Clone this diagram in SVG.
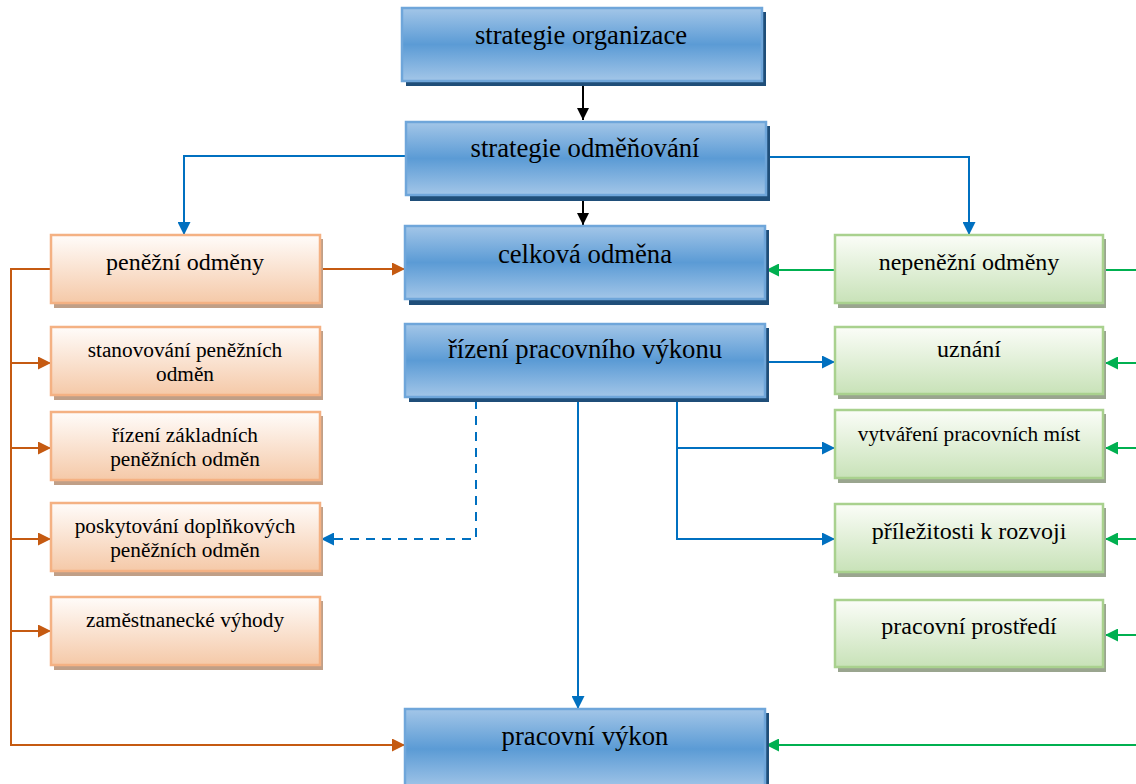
<svg xmlns="http://www.w3.org/2000/svg" width="1136" height="784" viewBox="0 0 1136 784">
<defs>
<linearGradient id="gBlue" x1="0" y1="0" x2="0" y2="1">
<stop offset="0" stop-color="#a3c6e8"/>
<stop offset="0.5" stop-color="#5b9bd5"/>
<stop offset="1" stop-color="#a3c6e8"/>
</linearGradient>
<linearGradient id="gOrange" x1="0" y1="0" x2="0" y2="1">
<stop offset="0" stop-color="#fffcfa"/>
<stop offset="1" stop-color="#f5c9a8"/>
</linearGradient>
<linearGradient id="gGreen" x1="0" y1="0" x2="0" y2="1">
<stop offset="0" stop-color="#fbfdf8"/>
<stop offset="1" stop-color="#c8e2b8"/>
</linearGradient>
<marker id="aBlack" viewBox="0 0 12 12" refX="12" refY="6" markerWidth="12" markerHeight="12" markerUnits="userSpaceOnUse" orient="auto"><path d="M0,0 L12,6 L0,12 z" fill="#000"/></marker>
<marker id="aBlue" viewBox="0 0 12 12" refX="12" refY="6" markerWidth="13" markerHeight="13" markerUnits="userSpaceOnUse" orient="auto"><path d="M0,0 L12,6 L0,12 z" fill="#0070c0"/></marker>
<marker id="aOrange" viewBox="0 0 12 12" refX="12" refY="6" markerWidth="13" markerHeight="13" markerUnits="userSpaceOnUse" orient="auto"><path d="M0,0 L12,6 L0,12 z" fill="#c55a11"/></marker>
<marker id="aGreen" viewBox="0 0 12 12" refX="12" refY="6" markerWidth="13" markerHeight="13" markerUnits="userSpaceOnUse" orient="auto"><path d="M0,0 L12,6 L0,12 z" fill="#00b050"/></marker>
</defs>
<style>
.bb{fill:url(#gBlue);stroke:#6fa6da;stroke-width:2.5}
.bs{fill:#1f4e79}
.ob{fill:url(#gOrange);stroke:#f4b183;stroke-width:2.5}
.os{fill:#c09f87}
.gb{fill:url(#gGreen);stroke:#a9d18e;stroke-width:2.5}
.gs{fill:#9aa58f}
.t{fill:#000;text-anchor:middle}
.tl{font-size:26.7px}
.tm{font-size:24px}
.ts{font-size:21.3px}
.lb{fill:none;stroke:#0070c0;stroke-width:2}
.lo{fill:none;stroke:#c55a11;stroke-width:2}
.lg{fill:none;stroke:#00b050;stroke-width:2}
.lk{fill:none;stroke:#000;stroke-width:2}
</style>
<g id="connectors">
<line class="lk" x1="583" y1="83" x2="583" y2="120" marker-end="url(#aBlack)"/>
<line class="lk" x1="583" y1="197" x2="583" y2="225" marker-end="url(#aBlack)"/>
<polyline class="lb" points="406,156 184,156 184,235" marker-end="url(#aBlue)"/>
<polyline class="lb" points="766,157 969,157 969,235" marker-end="url(#aBlue)"/>
<line class="lo" x1="321" y1="269" x2="405" y2="269" marker-end="url(#aOrange)"/>
<polyline class="lo" points="51,269 11,269 11,745 405,745" marker-end="url(#aOrange)"/>
<line class="lo" x1="11" y1="363" x2="51" y2="363" marker-end="url(#aOrange)"/>
<line class="lo" x1="11" y1="448" x2="51" y2="448" marker-end="url(#aOrange)"/>
<line class="lo" x1="11" y1="539" x2="51" y2="539" marker-end="url(#aOrange)"/>
<line class="lo" x1="11" y1="631" x2="51" y2="631" marker-end="url(#aOrange)"/>
<line class="lg" x1="835" y1="270" x2="766" y2="270" marker-end="url(#aGreen)"/>
<line class="lg" x1="1105" y1="270" x2="1136" y2="270"/>
<line class="lg" x1="1136" y1="363" x2="1105" y2="363" marker-end="url(#aGreen)"/>
<line class="lg" x1="1136" y1="448" x2="1105" y2="448" marker-end="url(#aGreen)"/>
<line class="lg" x1="1136" y1="539" x2="1105" y2="539" marker-end="url(#aGreen)"/>
<line class="lg" x1="1136" y1="635" x2="1105" y2="635" marker-end="url(#aGreen)"/>
<line class="lg" x1="1136" y1="745" x2="766" y2="745" marker-end="url(#aGreen)"/>
<line class="lb" x1="766" y1="362" x2="835" y2="362" marker-end="url(#aBlue)"/>
<polyline class="lb" points="677,400 677,539 835,539" marker-end="url(#aBlue)"/>
<line class="lb" x1="677" y1="448" x2="835" y2="448" marker-end="url(#aBlue)"/>
<line class="lb" x1="578" y1="400" x2="578" y2="709" marker-end="url(#aBlue)"/>
<polyline class="lb" points="476,400 476,539 321,539" stroke-dasharray="9,7" marker-end="url(#aBlue)"/>
</g>
<g id="n_strategie_organizace">
<rect class="bs" x="406" y="12" width="360" height="74"/>
<rect class="bb" x="402" y="8" width="360" height="73"/>
<text class="t tl" font-family="Liberation Serif, serif" x="581" y="44">strategie organizace</text>
</g>
<g id="n_strategie_odmenovani">
<rect class="bs" x="410" y="126" width="360" height="75"/>
<rect class="bb" x="406" y="122" width="360" height="73"/>
<text class="t tl" font-family="Liberation Serif, serif" x="585" y="157">strategie odměňování</text>
</g>
<g id="n_celkova_odmena">
<rect class="bs" x="409" y="230" width="360" height="75"/>
<rect class="bb" x="405" y="226" width="360" height="73"/>
<text class="t tl" font-family="Liberation Serif, serif" x="585" y="263">celková odměna</text>
</g>
<g id="n_rizeni_vykonu">
<rect class="bs" x="409" y="328" width="360" height="74"/>
<rect class="bb" x="405" y="324" width="360" height="73"/>
<text class="t tl" font-family="Liberation Serif, serif" x="585" y="358">řízení pracovního výkonu</text>
</g>
<g id="n_pracovni_vykon">
<rect class="bs" x="409" y="713" width="360" height="80"/>
<rect class="bb" x="405" y="709" width="360" height="80"/>
<text class="t tl" font-family="Liberation Serif, serif" x="585" y="745">pracovní výkon</text>
</g>
<g id="n_penezni_odmeny">
<rect class="os" x="54" y="239" width="269" height="69"/>
<rect class="ob" x="51" y="235" width="269" height="68"/>
<text class="t tm" font-family="Liberation Serif, serif" x="185" y="270">peněžní odměny</text>
</g>
<g id="n_stanovovani">
<rect class="os" x="54" y="331" width="269" height="69"/>
<rect class="ob" x="51" y="327" width="269" height="68"/>
<text class="t ts" font-family="Liberation Serif, serif" x="185" y="357">stanovování peněžních</text>
<text class="t ts" font-family="Liberation Serif, serif" x="185" y="381">odměn</text>
</g>
<g id="n_rizeni_zakladnich">
<rect class="os" x="54" y="416" width="269" height="69"/>
<rect class="ob" x="51" y="412" width="269" height="68"/>
<text class="t ts" font-family="Liberation Serif, serif" x="185" y="442">řízení základních</text>
<text class="t ts" font-family="Liberation Serif, serif" x="185" y="466">peněžních odměn</text>
</g>
<g id="n_poskytovani">
<rect class="os" x="54" y="507" width="269" height="69"/>
<rect class="ob" x="51" y="503" width="269" height="68"/>
<text class="t ts" font-family="Liberation Serif, serif" x="185" y="533">poskytování doplňkových</text>
<text class="t ts" font-family="Liberation Serif, serif" x="185" y="557">peněžních odměn</text>
</g>
<g id="n_zamestnanecke">
<rect class="os" x="54" y="601" width="269" height="69"/>
<rect class="ob" x="51" y="597" width="269" height="68"/>
<text class="t ts" font-family="Liberation Serif, serif" x="185" y="627">zaměstnanecké výhody</text>
</g>
<g id="n_nepenezni_odmeny">
<rect class="gs" x="838" y="239" width="268" height="69"/>
<rect class="gb" x="835" y="235" width="268" height="68"/>
<text class="t tm" font-family="Liberation Serif, serif" x="969" y="270">nepeněžní odměny</text>
</g>
<g id="n_uznani">
<rect class="gs" x="838" y="331" width="268" height="68"/>
<rect class="gb" x="835" y="327" width="268" height="67"/>
<text class="t tm" font-family="Liberation Serif, serif" x="969" y="357">uznání</text>
</g>
<g id="n_vytvareni">
<rect class="gs" x="838" y="414" width="268" height="69"/>
<rect class="gb" x="835" y="410" width="268" height="68"/>
<text class="t ts" font-family="Liberation Serif, serif" x="969" y="441">vytváření pracovních míst</text>
</g>
<g id="n_prilezitosti">
<rect class="gs" x="838" y="508" width="268" height="69"/>
<rect class="gb" x="835" y="504" width="268" height="68"/>
<text class="t tm" font-family="Liberation Serif, serif" x="969" y="539">příležitosti k rozvoji</text>
</g>
<g id="n_pracovni_prostredi">
<rect class="gs" x="838" y="604" width="268" height="68"/>
<rect class="gb" x="835" y="600" width="268" height="67"/>
<text class="t tm" font-family="Liberation Serif, serif" x="969" y="634">pracovní prostředí</text>
</g>
</svg>
